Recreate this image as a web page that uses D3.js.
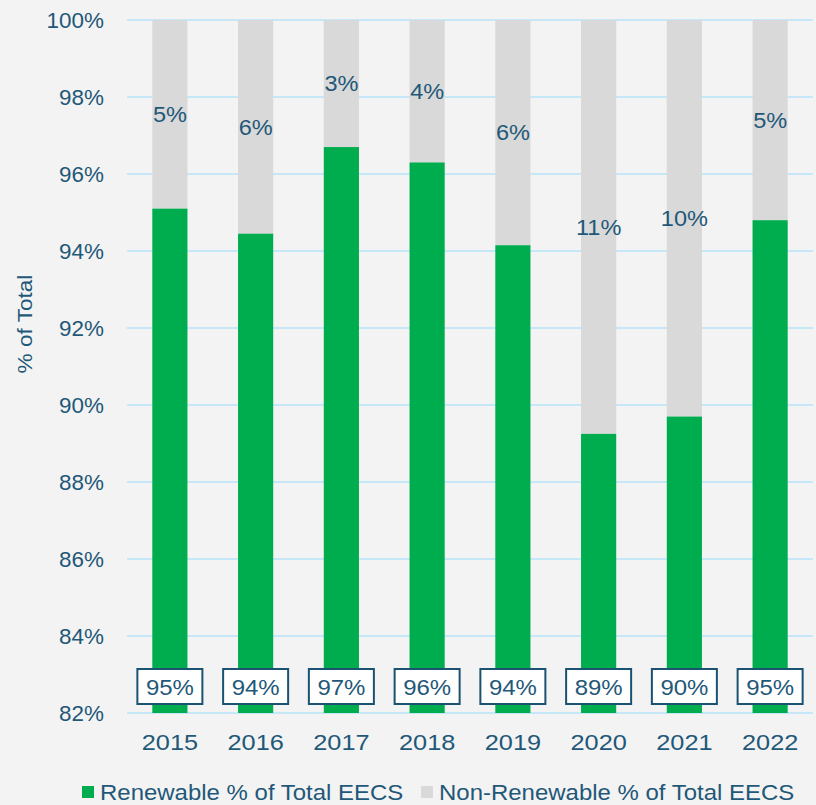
<!DOCTYPE html>
<html>
<head>
<meta charset="utf-8">
<script src="https://cdn.jsdelivr.net/npm/d3@7"></script>
<style>
  body { margin: 0; background: #f3f3f3; }
  text { font-family: "Liberation Sans", Arial, sans-serif; fill: #1f5878; font-size: 22px; }
</style>
</head>
<body>
<div id="chart"></div>
<script>
"use strict";

// data
var years = ["2015","2016","2017","2018","2019","2020","2021","2022"];
var renewable = [95.1, 94.45, 96.7, 96.3, 94.15, 89.25, 89.7, 94.8];
var renewableLabels = ["95%","94%","97%","96%","94%","89%","90%","95%"];
var nonRenewableLabels = ["5%","6%","3%","4%","6%","11%","10%","5%"];
var yTicks = [82,84,86,88,90,92,94,96,98,100];
var seriesNames = ["Renewable % of Total EECS","Non-Renewable % of Total EECS"];
var colors = ["#00ad4e","#d9d9d9"];

var width = 816, height = 805;
var margin = { top: 20, right: 3, bottom: 92, left: 127 };

var svg = d3.select("#chart")
  .append("svg")
  .attr("width", width)
  .attr("height", height);

// place text with a slight horizontal stretch (the original type is wide)
function place(sel, fx, fy, s) {
  return sel.attr("transform", function(d, i) {
    return "translate(" + fx(d, i) + "," + fy(d, i) + ") scale(" + s + ",1)";
  });
}

var x = d3.scaleBand()
  .domain(years)
  .range([margin.left, width - margin.right])
  .paddingInner(0.59)
  .paddingOuter(0.295);

var y = d3.scaleLinear()
  .domain([82, 100])
  .range([height - margin.bottom, margin.top]);

function cx(yr) { return x(yr) + x.bandwidth() / 2; }

// gridlines
svg.append("g")
  .selectAll("line")
  .data(yTicks)
  .enter().append("line")
    .attr("x1", margin.left)
    .attr("x2", width - margin.right)
    .attr("y1", function(d) { return y(d); })
    .attr("y2", function(d) { return y(d); })
    .style("stroke", "#c6e7f8")
    .style("stroke-width", 2);

// y tick labels
place(svg.append("g")
  .selectAll("text")
  .data(yTicks)
  .enter().append("text"),
    function() { return 104; },
    function(d) { return y(d); }, 1.02)
    .attr("dy", "0.35em")
    .attr("text-anchor", "end")
    .text(function(d) { return d + "%"; });

// y title
svg.append("text")
  .attr("transform", "translate(25,324) rotate(-90) scale(1.13,1)")
  .attr("text-anchor", "middle")
  .attr("dy", "0.35em")
  .style("font-size", "20px")
  .text("% of Total");

var rows = years.map(function(yr, i) { return { year: yr, r: renewable[i], i: i }; });

// non-renewable (top) segments
svg.append("g")
  .selectAll("rect")
  .data(rows)
  .enter().append("rect")
    .attr("x", function(d) { return x(d.year); })
    .attr("width", x.bandwidth())
    .attr("y", y(100))
    .attr("height", function(d) { return y(d.r) - y(100); })
    .style("fill", colors[1]);

// renewable segments
svg.append("g")
  .selectAll("rect")
  .data(rows)
  .enter().append("rect")
    .attr("x", function(d) { return x(d.year); })
    .attr("width", x.bandwidth())
    .attr("y", function(d) { return y(d.r); })
    .attr("height", function(d) { return y(82) - y(d.r); })
    .style("fill", colors[0]);

// non-renewable labels
place(svg.append("g")
  .selectAll("text")
  .data(rows)
  .enter().append("text"),
    function(d) { return cx(d.year); },
    function(d) { return (y(100) + y(d.r)) / 2; }, 1.07)
    .attr("dy", "0.35em")
    .attr("text-anchor", "middle")
    .text(function(d) { return nonRenewableLabels[d.i]; });

// renewable labels in boxes
var boxes = svg.append("g")
  .selectAll("g")
  .data(rows)
  .enter().append("g")
    .attr("transform", function(d) {
      return "translate(" + cx(d.year) + "," + 687 + ")";
    });

boxes.append("rect")
  .attr("x", -32.5)
  .attr("y", -18)
  .attr("width", 65)
  .attr("height", 35)
  .style("fill", "#fff")
  .style("stroke", "#1c5271")
  .style("stroke-width", 2);

boxes.append("text")
  .attr("text-anchor", "middle")
  .attr("dy", "0.35em")
  .attr("transform", "scale(1.09,1)")
  .text(function(d) { return renewableLabels[d.i]; });

// x labels
place(svg.append("g")
  .selectAll("text")
  .data(years)
  .enter().append("text"),
    function(d) { return cx(d); },
    function() { return 742; }, 1.15)
    .attr("dy", "0.35em")
    .attr("text-anchor", "middle")
    .text(function(d) { return d; });

// legend
var legend = svg.append("g");
var lx = [82, 421];
seriesNames.forEach(function(name, i) {
  legend.append("rect")
    .attr("x", lx[i])
    .attr("y", 786)
    .attr("width", 12)
    .attr("height", 12)
    .style("fill", colors[i]);
  legend.append("text")
    .attr("transform", "translate(" + (lx[i] + 18) + ",792) scale(1.09,1)")
    .attr("dy", "0.35em")
    .text(name);
});
</script>
</body>
</html>
